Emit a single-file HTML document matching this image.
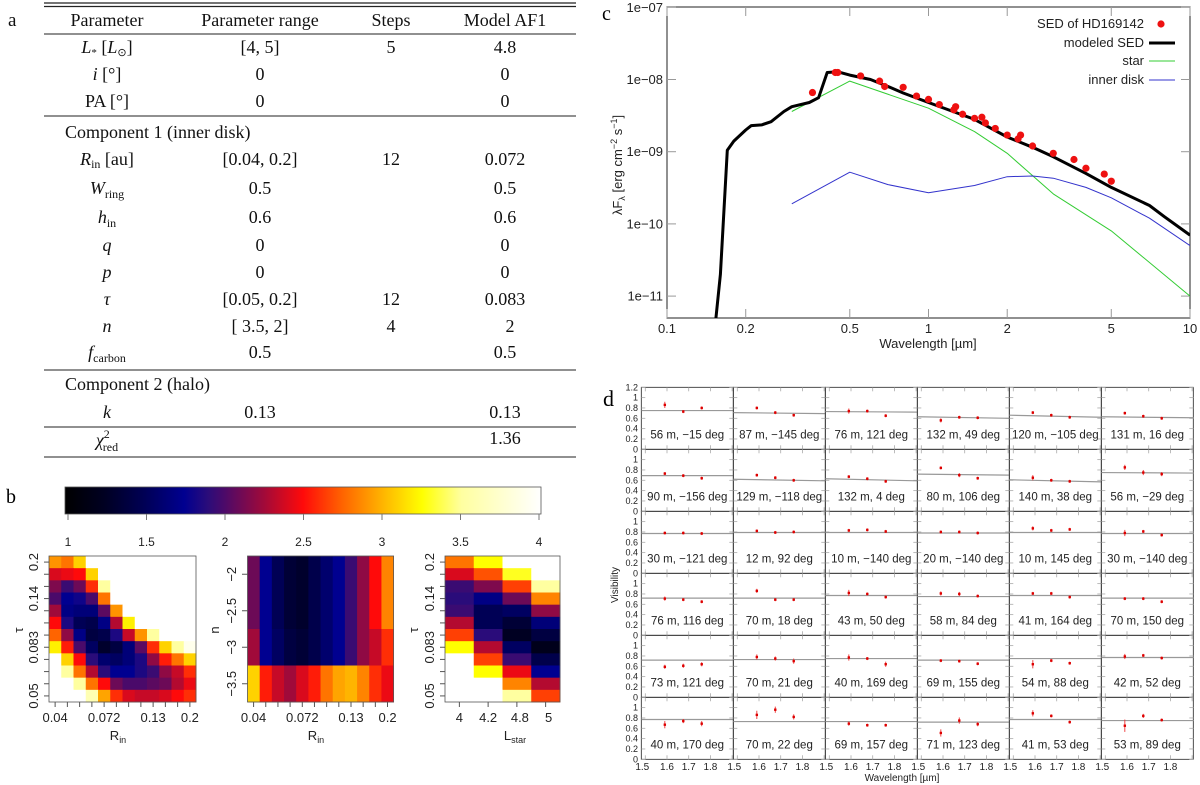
<!DOCTYPE html>
<html><head><meta charset="utf-8">
<style>
html,body{margin:0;padding:0;background:#fff;}
svg{display:block;}
.serif{font-family:"Liberation Serif",serif;}
.sans{font-family:"Liberation Sans",sans-serif;}
</style></head>
<body>
<svg id="fig" width="1200" height="785" viewBox="0 0 1200 785" xmlns="http://www.w3.org/2000/svg">
<defs>
<clipPath id="clipC"><rect x="667" y="7" width="523" height="311"/></clipPath>
<linearGradient id="cbarGrad" x1="0" x2="1" y1="0" y2="0"></linearGradient>
</defs>
<g class="serif" font-size="18" fill="#111">
<text x="8" y="26" font-size="19">a</text>
<line x1="44" x2="576" y1="3" y2="3" stroke="#222" stroke-width="1.2"/>
<line x1="44" x2="576" y1="6.5" y2="6.5" stroke="#222" stroke-width="1.2"/>
<g text-anchor="middle">
<text x="107" y="26">Parameter</text><text x="260" y="26">Parameter range</text><text x="391" y="26">Steps</text><text x="505" y="26">Model AF1</text>
</g>
<line x1="44" x2="576" y1="34" y2="34" stroke="#222" stroke-width="1"/>
<g text-anchor="middle">
<text x="107" y="53"><tspan font-style="italic">L</tspan><tspan font-size="11" dy="3">*</tspan><tspan dy="-3"> [</tspan><tspan font-style="italic">L</tspan><tspan font-size="11" dy="3">⊙</tspan><tspan dy="-3">]</tspan></text>
<text x="260" y="53">[4,  5]</text><text x="391" y="53">5</text><text x="505" y="53">4.8</text>
<text x="107" y="80"><tspan font-style="italic">i</tspan> [°]</text><text x="260" y="80">0</text><text x="505" y="80">0</text>
<text x="107" y="107">PA [°]</text><text x="260" y="107">0</text><text x="505" y="107">0</text>
</g>
<line x1="44" x2="576" y1="116" y2="116" stroke="#222" stroke-width="1"/>
<text x="65" y="138">Component 1 (inner disk)</text>
<g text-anchor="middle">
<text x="107" y="165"><tspan font-style="italic">R</tspan><tspan font-size="12" dy="3">in</tspan><tspan dy="-3"> [au]</tspan></text>
<text x="260" y="165">[0.04,  0.2]</text><text x="391" y="165">12</text><text x="505" y="165">0.072</text>
<text x="107" y="194"><tspan font-style="italic">W</tspan><tspan font-size="12" dy="4">ring</tspan></text><text x="260" y="194">0.5</text><text x="505" y="194">0.5</text>
<text x="107" y="223"><tspan font-style="italic">h</tspan><tspan font-size="12" dy="4">in</tspan></text><text x="260" y="223">0.6</text><text x="505" y="223">0.6</text>
<text x="107" y="251" font-style="italic">q</text><text x="260" y="251">0</text><text x="505" y="251">0</text>
<text x="107" y="278" font-style="italic">p</text><text x="260" y="278">0</text><text x="505" y="278">0</text>
<text x="107" y="305" font-style="italic">τ</text><text x="260" y="305">[0.05,  0.2]</text><text x="391" y="305">12</text><text x="505" y="305">0.083</text>
<text x="107" y="332" font-style="italic">n</text><text x="260" y="332">[   3.5,      2]</text><text x="391" y="332">4</text><text x="510" y="332">2</text>
<text x="107" y="358"><tspan font-style="italic">f</tspan><tspan font-size="12" dy="4">carbon</tspan></text><text x="260" y="358">0.5</text><text x="505" y="358">0.5</text>
</g>
<line x1="44" x2="576" y1="370" y2="370" stroke="#222" stroke-width="1"/>
<text x="65" y="390">Component 2 (halo)</text>
<g text-anchor="middle">
<text x="107" y="418" font-style="italic">k</text><text x="260" y="418">0.13</text><text x="505" y="418">0.13</text>
</g>
<line x1="44" x2="576" y1="427" y2="427" stroke="#222" stroke-width="1"/>
<g text-anchor="middle">
<text x="107" y="446"><tspan font-style="italic">χ</tspan><tspan font-size="12" dy="-8">2</tspan><tspan font-size="12" dx="-7" dy="13">red</tspan></text>
<text x="505" y="444">1.36</text>
</g>
<line x1="44" x2="576" y1="457" y2="457" stroke="#222" stroke-width="1"/>
</g>
<text class="serif" x="6" y="503" font-size="20">b</text>
<text class="serif" x="602" y="20" font-size="20">c</text>
<text class="serif" x="603" y="406" font-size="22">d</text>
<g id="gB" class="sans"></g>
<g id="gC" class="sans"></g>
<g id="gD" class="sans"></g>
</svg>
<script>
// ---------- Panel c data ----------
const sedWl   = [0.36,0.44,0.45,0.55,0.65,0.68,0.8,0.9,1.0,1.1,1.25,1.27,1.35,1.5,1.6,1.65,1.8,2.0,2.2,2.25,2.5,3.0,3.6,4.0,4.7,5.0];
const sedFlux = [6.6e-9,1.25e-8,1.25e-8,1.12e-8,9.5e-9,8e-9,7.8e-9,5.9e-9,5.3e-9,4.5e-9,3.8e-9,4.2e-9,3.3e-9,2.9e-9,3.0e-9,2.5e-9,2.1e-9,1.7e-9,1.5e-9,1.7e-9,1.2e-9,9.5e-10,7.8e-10,5.9e-10,4.9e-10,3.9e-10];
const modelWl   = [0.15,0.16,0.17,0.18,0.2,0.21,0.23,0.25,0.28,0.3,0.35,0.38,0.41,0.45,0.5,0.6,0.7,0.8,1.0,1.5,2.0,2.5,3.0,4.0,5.0,7.0,8.0,10.0];
const modelFlux = [2e-12,2e-11,1.05e-9,1.4e-9,2e-9,2.3e-9,2.35e-9,2.6e-9,3.6e-9,4.2e-9,4.8e-9,5.6e-9,1.25e-8,1.28e-8,1.15e-8,1e-8,8e-9,6.5e-9,4.8e-9,2.8e-9,1.6e-9,1.15e-9,8.5e-10,5e-10,3.2e-10,1.8e-10,1.25e-10,7e-11];
const starWl   = [0.3,0.5,1.0,1.5,2.0,3.0,5.0,10.0];
const starFlux = [3.6e-9,9.5e-9,4e-9,1.9e-9,9.5e-10,2.6e-10,8e-11,1e-11];
const diskWl   = [0.3,0.5,0.7,1.0,1.5,2.0,2.5,3.0,4.0,5.0,7.0,10.0];
const diskFlux = [1.9e-10,5.2e-10,3.5e-10,2.7e-10,3.4e-10,4.5e-10,4.6e-10,4.3e-10,3.2e-10,2.3e-10,1.2e-10,5e-11];
const cXTicks = [0.1,0.2,0.5,1,2,5,10];
const cXTickLabels = ['0.1','0.2','0.5','1','2','5','10'];
const cYTicks = [1e-7,1e-8,1e-9,1e-10,1e-11];
const cYTickLabels = ['1e\u221207','1e\u221208','1e\u221209','1e\u221210','1e\u221211'];

// ---------- Panel b data (chi2 values) ----------
const colorbarTicks = [1,1.5,2,2.5,3,3.5,4];
const heat1 = [
[2.9,2.8,3.1,5,5,5,5,5,5,5,5,5],
[2.4,2.45,2.5,3.1,5,5,5,5,5,5,5,5],
[2.15,1.95,2.1,2.6,3.5,5,5,5,5,5,5,5],
[2.0,1.75,1.8,2.0,2.8,5,5,5,5,5,5,5],
[2.25,1.7,1.65,1.65,2.05,2.9,5,5,5,5,5,5],
[2.5,1.85,1.5,1.45,1.7,2.3,3.2,5,5,5,5,5],
[2.75,2.2,1.7,1.4,1.45,1.85,2.35,2.9,3.5,5,5,5],
[3.2,2.55,2.0,1.55,1.3,1.4,1.65,2.05,2.6,3.1,3.5,3.9],
[5,3.1,2.5,1.9,1.6,1.55,1.65,1.85,2.2,2.55,2.8,3.1],
[5,3.5,2.8,2.3,1.9,1.75,1.75,1.85,1.95,2.2,2.35,2.6],
[5,5,3.5,2.8,2.5,2.1,2.0,2.0,2.05,2.1,2.3,2.45],
[5,5,5,3.6,2.95,2.6,2.4,2.35,2.35,2.4,2.5,2.6]];
const heat2 = [
[2.1,1.75,1.5,1.35,1.3,1.45,1.6,1.75,1.95,2.2,2.5,2.85],
[2.1,1.75,1.5,1.35,1.3,1.45,1.6,1.75,1.95,2.2,2.5,2.85],
[2.25,1.75,1.55,1.4,1.35,1.45,1.6,1.75,1.95,2.2,2.35,2.6],
[3.1,2.55,2.35,2.25,2.4,2.55,2.8,2.95,3.0,2.85,2.6,2.45]];
const heat3 = [
[2.8,3.25,5,5],
[2.4,2.7,3.3,5],
[1.95,2.15,2.65,3.5],
[1.9,1.7,2.1,2.85],
[1.95,1.5,1.55,2.2],
[2.3,1.5,1.35,1.65],
[2.65,1.9,1.25,1.4],
[3.25,2.3,1.55,1.2],
[5,2.65,1.95,1.45],
[5,3.25,2.45,1.75],
[5,5,2.85,2.3],
[5,5,3.5,2.65]];
const tauTickRows = [0,3,7,11];
const tauTickLabels = ['0.2','0.14','0.083','0.05'];
const rinTickCols = [0,4,8,11];
const rinTickLabels = ['0.04','0.072','0.13','0.2'];
const nTickLabels = ['\u22122','\u22122.5','\u22123','\u22123.5'];
const lstarTickCols = [0,1,2,3];
const lstarTickLabels = ['4','4.2','4.8','5'];

// ---------- Panel d data ----------
const visWl = [1.59,1.675,1.76];
const visLabels = [
'56 m, \u221215 deg','87 m, \u2212145 deg','76 m, 121 deg','132 m, 49 deg','120 m, \u2212105 deg','131 m, 16 deg',
'90 m, \u2212156 deg','129 m, \u2212118 deg','132 m, 4 deg','80 m, 106 deg','140 m, 38 deg','56 m, \u221229 deg',
'30 m, \u2212121 deg','12 m, 92 deg','10 m, \u2212140 deg','20 m, \u2212140 deg','10 m, 145 deg','30 m, \u2212140 deg',
'76 m, 116 deg','70 m, 18 deg','43 m, 50 deg','58 m, 84 deg','41 m, 164 deg','70 m, 150 deg',
'73 m, 121 deg','70 m, 21 deg','40 m, 169 deg','69 m, 155 deg','54 m, 88 deg','42 m, 52 deg',
'40 m, 170 deg','70 m, 22 deg','69 m, 157 deg','71 m, 123 deg','41 m, 53 deg','53 m, 89 deg'];
const visP1 = [0.86,0.80,0.74,0.56,0.71,0.70, 0.73,0.70,0.67,0.84,0.65,0.85, 0.78,0.82,0.83,0.80,0.87,0.78, 0.71,0.86,0.82,0.81,0.81,0.71, 0.59,0.78,0.77,0.71,0.64,0.79, 0.67,0.86,0.69,0.51,0.89,0.65];
const visP2 = [0.73,0.71,0.74,0.62,0.66,0.64, 0.69,0.65,0.63,0.70,0.60,0.75, 0.78,0.79,0.84,0.80,0.83,0.81, 0.69,0.69,0.80,0.80,0.81,0.71, 0.61,0.75,0.75,0.70,0.71,0.81, 0.74,0.96,0.66,0.75,0.84,0.84];
const visP3 = [0.80,0.66,0.65,0.61,0.62,0.60, 0.64,0.60,0.58,0.64,0.58,0.72, 0.77,0.80,0.81,0.78,0.85,0.74, 0.65,0.69,0.74,0.76,0.74,0.65, 0.64,0.70,0.64,0.65,0.66,0.76, 0.69,0.82,0.66,0.68,0.72,0.76];
const visErr1 = [0.06,0.03,0.05,0.04,0.03,0.03, 0.03,0.03,0.03,0.03,0.05,0.05, 0.03,0.03,0.03,0.03,0.04,0.06, 0.04,0.04,0.06,0.04,0.03,0.03, 0.04,0.05,0.06,0.03,0.08,0.05, 0.07,0.08,0.04,0.07,0.06,0.12];
const visErr2 = [0.03,0.03,0.03,0.03,0.03,0.03, 0.03,0.03,0.03,0.04,0.03,0.05, 0.03,0.03,0.03,0.03,0.03,0.03, 0.03,0.03,0.03,0.04,0.03,0.03, 0.04,0.04,0.03,0.03,0.03,0.03, 0.04,0.06,0.03,0.06,0.03,0.04];
const visErr3 = [0.03,0.03,0.03,0.03,0.03,0.03, 0.03,0.03,0.03,0.03,0.03,0.04, 0.03,0.03,0.03,0.03,0.03,0.03, 0.03,0.03,0.03,0.03,0.03,0.03, 0.04,0.05,0.05,0.03,0.03,0.03, 0.05,0.05,0.03,0.04,0.03,0.03];
const visModelStart = [0.75,0.71,0.73,0.63,0.66,0.63, 0.69,0.62,0.63,0.72,0.61,0.75, 0.77,0.79,0.79,0.78,0.79,0.77, 0.72,0.72,0.77,0.75,0.77,0.72, 0.72,0.73,0.75,0.72,0.75,0.77, 0.77,0.73,0.73,0.72,0.77,0.75];
const visModelEnd   = [0.75,0.69,0.72,0.60,0.62,0.61, 0.69,0.59,0.59,0.70,0.57,0.74, 0.77,0.79,0.79,0.78,0.79,0.77, 0.72,0.72,0.77,0.75,0.77,0.72, 0.72,0.73,0.75,0.72,0.75,0.77, 0.77,0.73,0.73,0.72,0.77,0.75];
const visYTicks = [0,0.2,0.4,0.6,0.8,1,1.2];
const visYTickLabels = ['0','0.2','0.4','0.6','0.8','1','1.2'];
const visXTicks = [1.5,1.6,1.7,1.8];
const visXTickLabels = ['1.5','1.6','1.7','1.8'];

const NS = 'http://www.w3.org/2000/svg';
function mk(tag, attrs, parent){ const e=document.createElementNS(NS,tag); for(const k in attrs) e.setAttribute(k,attrs[k]); parent.appendChild(e); return e; }

// ---------- Panel c ----------
(function(){
const g=document.getElementById('gC');
const X0=667,X1=1190,Y7=7.3,DEC=72.2;
const xs=v=>X0+(Math.log10(v)+1)*(X1-X0)/2;
const ys=v=>Y7+(-7-Math.log10(v))*DEC;
let el;
el=mk('rect',{x:X0,y:7,width:X1-X0,height:311,fill:'none',stroke:'#222','stroke-width':1},g);


cXTicks.forEach((t,i)=>{
  const x=xs(t);
  mk('line',{x1:x,x2:x,y1:318,y2:309,stroke:'#999'},g);
  mk('line',{x1:x,x2:x,y1:7,y2:16,stroke:'#999'},g);
  el=mk('text',{x:x,y:333,'font-size':13,'text-anchor':'middle',fill:'#222'},g);
  el.textContent=cXTickLabels[i];
  
  
});
cYTicks.forEach((t,i)=>{
  const y=ys(t);
  mk('line',{x1:X0,x2:X0+9,y1:y,y2:y,stroke:'#999'},g);
  mk('line',{x1:X1,x2:X1-9,y1:y,y2:y,stroke:'#999'},g);
  el=mk('text',{x:663,y:y+4.5,'font-size':13,'text-anchor':'end',fill:'#222'},g);
  el.textContent=cYTickLabels[i];
  
  
});
el=mk('text',{x:928,y:348,'font-size':13,'text-anchor':'middle',fill:'#222'},g);
el.textContent='Wavelength [\u00b5m]';


el=mk('text',{x:0,y:0,'font-size':13,'text-anchor':'middle',fill:'#222',transform:'translate(622,165) rotate(-90)'},g);
el.innerHTML='\u03bbF<tspan font-size="9" dy="3">\u03bb</tspan><tspan dy="-3"> [erg cm</tspan><tspan font-size="9" dy="-5">\u22122</tspan><tspan dy="5"> s</tspan><tspan font-size="9" dy="-5">\u22121</tspan><tspan dy="5">]</tspan>';


const cg=mk('g',{'clip-path':'url(#clipC)'},g);
function line(wl,fl,color,w){
  const d=wl.map((v,i)=>(i?'L':'M')+xs(v).toFixed(1)+','+ys(fl[i]).toFixed(1)).join('');
  return mk('path',{d:d,fill:'none',stroke:color,'stroke-width':w,'stroke-linejoin':'round'},cg);
}
el=line(starWl,starFlux,'#33cc33',1);


el=line(diskWl,diskFlux,'#3333cc',1);


el=line(modelWl,modelFlux,'#000',3);


sedWl.forEach((w,i)=>{
  const c=mk('circle',{cx:xs(w),cy:ys(sedFlux[i]),r:3.6,fill:'#ee1111'},cg);
  
  
});
const leg=mk('g',{},g);


const legT=['SED of HD169142','modeled SED','star','inner disk'];
const legY=[28,47,65,84];
legT.forEach((t,i)=>{
  el=mk('text',{x:1144,y:legY[i],'font-size':13,'text-anchor':'end',fill:'#222'},leg);
  el.textContent=t;
  
  
});
mk('circle',{cx:1161,cy:legY[0]-4,r:3.6,fill:'#ee1111'},leg);
mk('line',{x1:1149,x2:1175,y1:legY[1]-4,y2:legY[1]-4,stroke:'#000','stroke-width':3},leg);
mk('line',{x1:1149,x2:1175,y1:legY[2]-4,y2:legY[2]-4,stroke:'#33cc33','stroke-width':1},leg);
mk('line',{x1:1149,x2:1175,y1:legY[3]-4,y2:legY[3]-4,stroke:'#3333cc','stroke-width':1},leg);
})();

// ---------- Panel b ----------
const cmapV=[1,1.25,1.5,1.75,1.9,2.0,2.25,2.5,2.75,3.0,3.25,3.5,4.0];
const cmapC=['#000000','#000022','#000055','#000090','#2a0c7a','#4a0a6a','#a00a3a','#ff0a0a','#ff6400','#ffb400','#ffff00','#ffffa0','#ffffff'];
function hex(c){return [1,3,5].map(i=>parseInt(c.substr(i,2),16));}
function cmap(v){
  if(v<=cmapV[0]) return cmapC[0];
  if(v>=cmapV[cmapV.length-1]) return '#ffffff';
  for(let i=0;i<cmapV.length-1;i++){
    if(v<=cmapV[i+1]){const t=(v-cmapV[i])/(cmapV[i+1]-cmapV[i]);const a=hex(cmapC[i]),b=hex(cmapC[i+1]);
      return 'rgb('+a.map((x,k)=>Math.round(x+(b[k]-x)*t)).join(',')+')';}
  }
}
(function(){
const g=document.getElementById('gB');
const grad=document.getElementById('cbarGrad');
cmapV.forEach((v,i)=>{mk('stop',{offset:((v-1)/3).toFixed(3),'stop-color':cmapC[i]},grad);});
let el;
const cbX0=68,cbX1=539;
const cbx=v=>cbX0+(v-1)/3*(cbX1-cbX0);
el=mk('rect',{x:65,y:487,width:476,height:27,fill:'url(#cbarGrad)',stroke:'#555','stroke-width':0.8},g);


colorbarTicks.forEach(t=>{
  const x=cbx(t);
  mk('line',{x1:x,x2:x,y1:514,y2:520,stroke:'#777'},g);
  el=mk('text',{x:x,y:546,'font-size':12,'text-anchor':'middle',fill:'#222'},g);
  el.textContent=String(t);
  
  
});
function heat(data,x0,x1,y0,y1,name){
  const rows=data.length,cols=data[0].length,cw=(x1-x0)/cols,rh=(y1-y0)/rows;
  const hg=mk('g',{},g);
  
  
  data.forEach((r,ri)=>r.forEach((v,ci)=>{
    const c=mk('rect',{x:(x0+ci*cw).toFixed(2),y:(y0+ri*rh).toFixed(2),width:(cw+0.4).toFixed(2),height:(rh+0.4).toFixed(2),fill:cmap(v)},hg);
    
    
  }));
  mk('rect',{x:x0,y:y0,width:x1-x0,height:y1-y0,fill:'none',stroke:'#555','stroke-width':0.8},hg);
  return {cw,rh};
}
function txt(x,y,s,size,anchor,rot){
  const e=mk('text',{x:0,y:0,'font-size':size,'text-anchor':anchor||'middle',fill:'#222',transform:'translate('+x+','+y+')'+(rot?' rotate(-90)':'')},g);
  e.textContent=s;
  return e;
}
let s=heat(heat1,49,196,556,702,'heatmap-tau-vs-rin');
for(let r=0;r<12;r++){const y=556+(r+0.5)*s.rh;mk('line',{x1:44,x2:49,y1:y,y2:y,stroke:'#555'},g);}
for(let c=0;c<12;c++){const x=49+(c+0.5)*s.cw;mk('line',{x1:x,x2:x,y1:702,y2:707,stroke:'#555'},g);}
tauTickRows.forEach((r,i)=>{el=txt(38,556+(r+0.5)*s.rh,tauTickLabels[i],13,'middle',true);
  
  });
rinTickCols.forEach((c,i)=>{el=txt(49+(c+0.5)*s.cw,722,rinTickLabels[i],13,'middle',false);
  
  });
el=txt(23,630,'\u03c4',13,'middle',true);


el=txt(118,740,'R',13,'middle',false);el.innerHTML='R<tspan font-size="9" dy="3">in</tspan>';


s=heat(heat2,247.5,393.6,556,702,'heatmap-n-vs-rin');
for(let c=0;c<12;c++){const x=247.5+(c+0.5)*s.cw;mk('line',{x1:x,x2:x,y1:702,y2:707,stroke:'#555'},g);}
nTickLabels.forEach((t,r)=>{const y=556+(r+0.5)*s.rh;mk('line',{x1:242,x2:247.5,y1:y,y2:y,stroke:'#555'},g);
  el=txt(236,y,t,13,'middle',true);
  
  });
rinTickCols.forEach((c,i)=>{el=txt(247.5+(c+0.5)*s.cw,722,rinTickLabels[i],13,'middle',false);
  
  });
el=txt(219,630,'n',13,'middle',true);


el=txt(316,740,'R',13,'middle',false);el.innerHTML='R<tspan font-size="9" dy="3">in</tspan>';


s=heat(heat3,445,560,556,702,'heatmap-tau-vs-lstar');
for(let r=0;r<12;r++){const y=556+(r+0.5)*s.rh;mk('line',{x1:440,x2:445,y1:y,y2:y,stroke:'#555'},g);}
lstarTickCols.forEach((c,i)=>{const x=445+(c+0.5)*s.cw;mk('line',{x1:x,x2:x,y1:702,y2:707,stroke:'#555'},g);
  el=txt(x+(i>=2?3:0),722,lstarTickLabels[i],13,'middle',false);
  
  });
tauTickRows.forEach((r,i)=>{el=txt(434,556+(r+0.5)*s.rh,tauTickLabels[i],13,'middle',true);
  
  });
el=txt(418,630,'\u03c4',13,'middle',true);


el=txt(515,740,'L',13,'middle',false);el.innerHTML='L<tspan font-size="9" dy="3">star</tspan>';


})();

// ---------- Panel d ----------
(function(){
const g=document.getElementById('gD');
const L=641.3,CW=92,T=387.3,RH=62;
let el;
for(let p=0;p<36;p++){
  const r=Math.floor(p/6),c=p%6;
  const x0=L+c*CW,yb=T+RH*(r+1);
  const xs=w=>x0+4+(w-1.5)*217;
  const ys=v=>yb-v/1.2*RH;
  const pg=mk('g',{},g);
  
  
  mk('rect',{x:x0,y:yb-RH,width:CW,height:RH,fill:'none',stroke:'#222','stroke-width':0.8},pg);
  visYTicks.forEach(t=>{const y=ys(t);
    mk('line',{x1:x0,x2:x0+4,y1:y,y2:y,stroke:'#aaa','stroke-width':0.8},pg);
    mk('line',{x1:x0+CW-4,x2:x0+CW,y1:y,y2:y,stroke:'#aaa','stroke-width':0.8},pg);});
  visXTicks.concat([1.9]).forEach(t=>{const x=xs(t); if(x<x0+CW-1){
    mk('line',{x1:x,x2:x,y1:yb,y2:yb-4,stroke:'#aaa','stroke-width':0.8},pg);
    mk('line',{x1:x,x2:x,y1:yb-RH,y2:yb-RH+4,stroke:'#aaa','stroke-width':0.8},pg);}});
  el=mk('line',{x1:x0,x2:x0+CW,y1:ys(visModelStart[p]),y2:ys(visModelEnd[p]),stroke:'#999','stroke-width':1.2},pg);
  
  
  const pts=[visP1[p],visP2[p],visP3[p]],errs=[visErr1[p],visErr2[p],visErr3[p]];
  pts.forEach((v,k)=>{
    const x=xs(visWl[k]);
    el=mk('line',{x1:x,x2:x,y1:ys(v-errs[k]),y2:ys(v+errs[k]),stroke:'#e33','stroke-width':0.9},pg);
    
    
    el=mk('rect',{x:x-1.2,y:ys(v)-1.2,width:2.4,height:2.4,fill:'#d00'},pg);
    
    
  });
  el=mk('text',{x:x0+CW/2,y:yb-11,'font-size':11.5,'text-anchor':'middle',fill:'#222'},pg);
  el.textContent=visLabels[p];
  
  
  if(c===0){
    visYTicks.forEach((t,i)=>{ if(t===1.2 && r>0) return;
      el=mk('text',{x:638,y:ys(t)+3,'font-size':9,'text-anchor':'end',fill:'#222'},g);
      el.textContent=visYTickLabels[i];
      
      });
  }
  if(r===5){
    visXTicks.forEach((t,i)=>{
      el=mk('text',{x:xs(t)-(i===0?3:0),y:770,'font-size':10,'text-anchor':'middle',fill:'#222'},g);
      el.textContent=visXTickLabels[i];
      
      });
  }
}
el=mk('text',{x:902,y:781,'font-size':10,'text-anchor':'middle',fill:'#222'},g);
el.textContent='Wavelength [\u00b5m]';


el=mk('text',{x:0,y:0,'font-size':10,'text-anchor':'middle',fill:'#222',transform:'translate(618,585) rotate(-90)'},g);
el.textContent='Visibility';


})();
</script>
</body></html>
